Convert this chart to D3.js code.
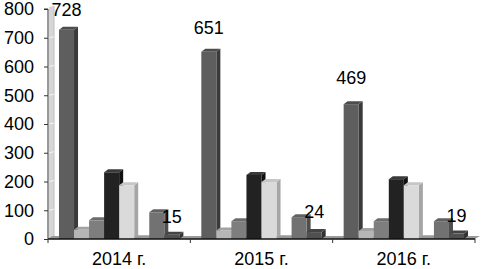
<!DOCTYPE html>
<html>
<head>
<meta charset="utf-8">
<script src="https://cdn.jsdelivr.net/npm/d3@7"></script>
<style>
  html, body { margin: 0; padding: 0; background: #fff; }
  svg { display: block; }
  text { font-family: "Liberation Sans", Arial, sans-serif; fill: #000; }
</style>
</head>
<body>
<svg id="chart" width="485" height="269"></svg>
<script>
// ---- data ----
const categories = ["2014 г.", "2015 г.", "2016 г."];
const seriesNames = ["s1", "s2", "s3", "s4", "s5", "s6", "s7", "s8"];
const s1 = [728, 651, 469];
const s2 = [32, 30, 28];
const s3 = [65, 62, 62];
const s4 = [232, 223, 208];
const s5 = [187, 198, 187];
const s6 = [3, 3, 3];
const s7 = [93, 76, 62];
const s8 = [15, 24, 19];
const yTicks = [0, 100, 200, 300, 400, 500, 600, 700, 800];
const labelledSeries = [0, 7];

const seriesValues = [s1, s2, s3, s4, s5, s6, s7, s8];

// ---- styles ----
const palette = [
  { front: "#5e5e5e", side: "#3a3a3a", top: "#4c4c4c" },
  { front: "#b6b6b6", side: "#8c8c8c", top: "#a2a2a2" },
  { front: "#7e7e7e", side: "#5a5a5a", top: "#6c6c6c" },
  { front: "#222222", side: "#111111", top: "#3a3a3a" },
  { front: "#dadada", side: "#a6a6a6", top: "#c6c6c6" },
  { front: "#8c8c8c", side: "#6a6a6a", top: "#9a9a9a" },
  { front: "#727272", side: "#4e4e4e", top: "#626262" },
  { front: "#505050", side: "#333333", top: "#444444" }
];
const labelLift = [[14, 18, 20], null, null, null, null, null, null, [12, 14, 12]];
const fontSize = 18;

const svg = d3.select("#chart");
const margin = { left: 48, right: 10, top: 9, bottom: 30 };
const depthX = 4, depthY = 3;

const x0 = d3.scaleBand().domain(categories).range([margin.left, 475]).paddingInner(0).paddingOuter(0);
const x1 = d3.scaleBand().domain(seriesNames).range([0, x0.bandwidth()]).paddingInner(0).paddingOuter(0.73);
const y = d3.scaleLinear().domain([0, 800]).range([239, margin.top]);

// side wall
const wallTop = y(800) - 2;
svg.append("polygon")
  .attr("points", [[49, y(0)], [49, wallTop], [54, wallTop - 1], [54, y(0) - 2]].map(p => p.join(",")).join(" "))
  .attr("fill", "#d6d6d6");
svg.append("line")
  .attr("x1", 54).attr("x2", 54).attr("y1", wallTop - 1).attr("y2", y(0) - 2)
  .attr("stroke", "#c0c0c0").attr("stroke-width", 1);
svg.append("g").selectAll("line").data(yTicks.slice(1, -1)).join("line")
  .attr("x1", 49).attr("x2", 54)
  .attr("y1", d => y(d)).attr("y2", d => y(d) - 1)
  .attr("stroke", "#f4f4f4").attr("stroke-width", 1);

// floor
const fx0 = x0.range()[0], fx1 = x0.range()[1];
svg.append("polygon")
  .attr("points", [[fx0, y(0)], [fx1, y(0)], [fx1 + depthX + 1, y(0) - depthY], [fx0 + depthX, y(0) - depthY]].map(p => p.join(",")).join(" "))
  .attr("fill", "#9a9a9a");

// bars
const gBars = svg.append("g");
categories.forEach((cat, ci) => {
  seriesNames.forEach((sn, si) => {
    const v = seriesValues[si][ci];
    const bx = x0(cat) + x1(sn);
    const bw = x1.bandwidth();
    const yt = y(v), yb = y(0);
    const c = palette[si];
    const g = gBars.append("g");
    g.append("polygon")
      .attr("points", [[bx + bw, yb], [bx + bw, yt], [bx + bw + depthX, yt - depthY], [bx + bw + depthX, yb - depthY]].map(p => p.join(",")).join(" "))
      .attr("fill", c.side);
    g.append("polygon")
      .attr("points", [[bx, yt], [bx + bw, yt], [bx + bw + depthX, yt - depthY], [bx + depthX, yt - depthY]].map(p => p.join(",")).join(" "))
      .attr("fill", c.top);
    g.append("rect")
      .attr("x", bx).attr("y", yt).attr("width", bw).attr("height", yb - yt)
      .attr("fill", c.front);
  });
});

// y axis
const yAxis = d3.axisLeft(y).tickValues(yTicks).tickSize(4).tickPadding(10).tickFormat(d3.format("d"));
const gy = svg.append("g").attr("transform", `translate(${margin.left},0)`).call(yAxis);
gy.select(".domain").attr("stroke", "#333").attr("d", `M-4,${y(800)}H0V${y(0)}`);
gy.selectAll(".tick line").attr("stroke", "#333");
gy.selectAll(".tick text").attr("font-size", fontSize).attr("font-family", "Liberation Sans, Arial, sans-serif").attr("fill", "#000");

// x axis
svg.append("line")
  .attr("x1", fx0).attr("x2", fx1).attr("y1", y(0)).attr("y2", y(0))
  .attr("stroke", "#111").attr("stroke-width", 1.3);
const bounds = categories.map(c => x0(c)).concat([fx1]);
svg.append("g").selectAll("line").data(bounds).join("line")
  .attr("x1", d => d).attr("x2", d => d).attr("y1", y(0)).attr("y2", y(0) + 4)
  .attr("stroke", "#333");
svg.append("g").selectAll("text").data(categories).join("text")
  .attr("x", d => x0(d) + x0.bandwidth() / 2)
  .attr("y", 265)
  .attr("text-anchor", "middle")
  .attr("font-size", fontSize)
  .text(d => d);

// data labels
labelledSeries.forEach(si => {
  categories.forEach((cat, ci) => {
    const v = seriesValues[si][ci];
    svg.append("text")
      .attr("x", x0(cat) + x1(seriesNames[si]) + x1.bandwidth() / 2)
      .attr("y", y(v) - labelLift[si][ci])
      .attr("text-anchor", "middle")
      .attr("font-size", fontSize)
      .text(v);
  });
});
</script>
</body>
</html>
